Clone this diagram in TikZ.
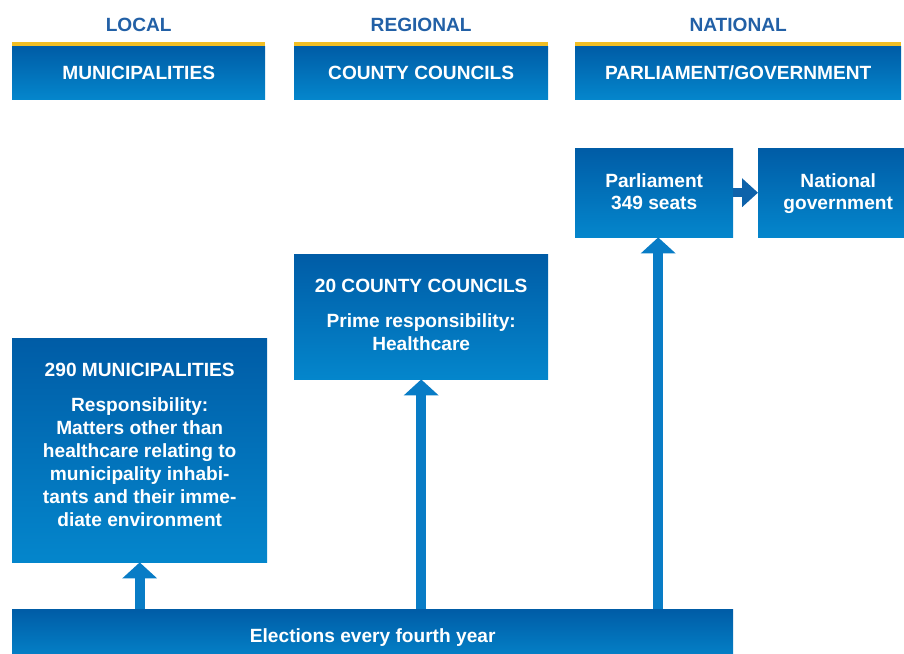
\documentclass[tikz,border=0pt]{standalone}
\usepackage{fontspec}
\setmainfont{Liberation Sans}
\usetikzlibrary{positioning,arrows.meta}

\definecolor{boxtop}{RGB}{0,92,166}
\definecolor{boxbot}{RGB}{4,134,204}
\definecolor{headtxt}{RGB}{34,96,166}
\definecolor{gold}{RGB}{242,190,36}
\definecolor{arrowblue}{RGB}{8,124,198}
\definecolor{arrowdark}{RGB}{14,98,170}

\tikzset{
  blubox/.style={rectangle, inner sep=0pt, top color=boxtop, bottom color=boxbot, draw=none, anchor=north west},
  boxtxt/.style={font=\fontsize{19.2}{23}\selectfont\bfseries, text=white, inner sep=0pt, align=center},
  onerow/.style={boxtxt, text height=13.5bp, text depth=0pt},
  headlbl/.style={font=\fontsize{19.2}{23}\selectfont\bfseries, text=headtxt, inner sep=0pt},
  goldline/.style={gold, line width=3.5bp},
  uparrow/.style={arrowblue, line width=10bp, -{Triangle[width=34bp,length=16bp]}},
  rarrow/.style={arrowdark, line width=9bp, -{Triangle[width=28bp,length=16bp]}},
}

\begin{document}
\begin{tikzpicture}[x=1bp,y=-1bp]
\clip (0,0) rectangle (904,654);

% header row
\node[blubox, onerow, minimum width=253bp, minimum height=53bp] (hloc) at (12,46) {MUNICIPALITIES};
\node[blubox, onerow, minimum width=254bp, minimum height=53bp] (hreg) at (294,46) {COUNTY COUNCILS};
\node[blubox, onerow, minimum width=326bp, minimum height=53bp] (hnat) at (575,46) {PARLIAMENT/GOVERNMENT};
\foreach \h in {hloc,hreg,hnat}
  \draw[goldline] ([yshift=1.75bp]\h.north west) -- ([yshift=1.75bp]\h.north east);
\node[headlbl, above=14bp of hloc] (lloc) {LOCAL};
\node[headlbl, above=14bp of hreg] (lreg) {REGIONAL};
\node[headlbl, above=14bp of hnat] (lnat) {NATIONAL};

% bodies
\node[blubox, minimum width=158bp, minimum height=89bp] (parl) at (575,148) {};
\node[blubox, minimum width=160bp, minimum height=89bp] (govt) at (758,148) {};
\node[blubox, minimum width=254bp, minimum height=125bp] (cty) at (294,254) {};
\node[blubox, minimum width=255bp, minimum height=224bp] (mun) at (12,338) {};
\node[blubox, onerow, minimum width=721bp, minimum height=54bp] (elec) at (12,609) {Elections every fourth year};

\node[boxtxt, below=25bp of parl.north] (parltxt) {Parliament\\349 seats};
\node[boxtxt, below=25bp of govt.north] (govttxt) {National\\government};
\node[boxtxt, below=25bp of cty.north] (ctytxt) {20 COUNTY COUNCILS\\[12bp]Prime responsibility:\\Healthcare};
\node[boxtxt, below=25bp of mun.north] (muntxt) {290 MUNICIPALITIES\\[12bp]Responsibility:\\Matters other than\\healthcare relating to\\municipality inhabi-\\tants and their imme-\\diate environment};

% arrows
\coordinate (parlin) at ([xshift=4bp]parl.south);
\draw[uparrow] (elec.north -| mun.south) -- (mun.south);
\draw[uparrow] (elec.north -| cty.south) -- (cty.south);
\draw[uparrow] (elec.north -| parlin) -- (parlin);
\draw[rarrow] (parl.east) -- (govt.west);

\end{tikzpicture}
\end{document}
